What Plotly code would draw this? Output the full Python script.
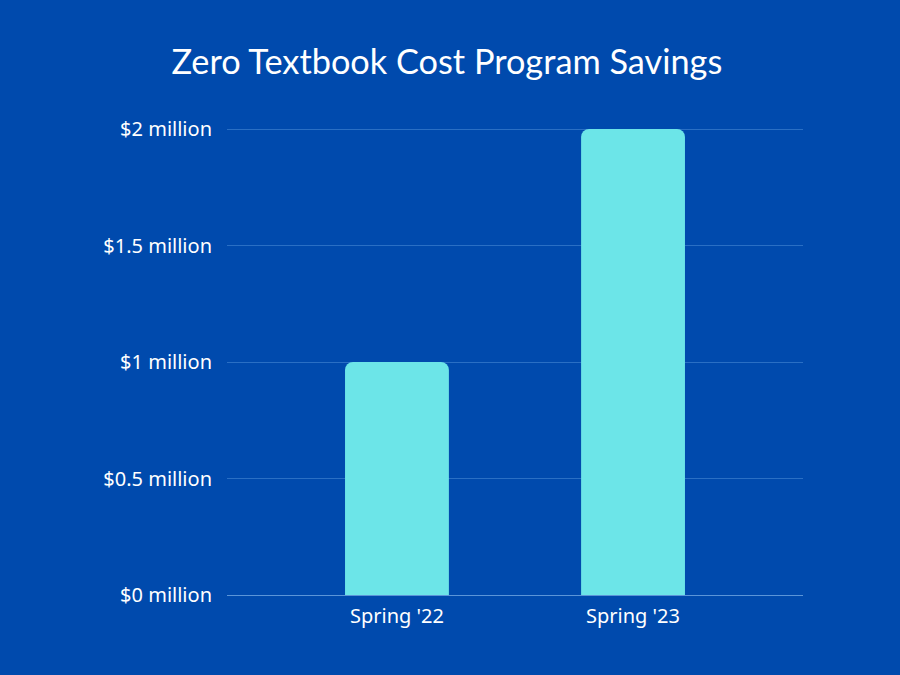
import plotly.graph_objects as go

# Values.
terms = ["Spring '22", "Spring '23"]
savings = [1, 2]
tick_values = [0, 0.5, 1, 1.5, 2]
tick_labels = ["$0 million", "$0.5 million", "$1 million", "$1.5 million", "$2 million"]

fig = go.Figure(
    go.Bar(
        x=terms,
        y=savings,
        width=0.44,
        marker=dict(color="#6ce5e8", line=dict(width=0), cornerradius=8),
    )
)

fig.update_layout(
    width=900,
    height=675,
    autosize=False,
    paper_bgcolor="#004aad",
    plot_bgcolor="#004aad",
    font=dict(family="Noto Sans", size=20, color="#ffffff"),
    title=dict(
        text="Zero Textbook Cost Program Savings",
        font=dict(family="Lato", size=34.3, color="#ffffff"),
        x=0.4965,
        xanchor="center",
        y=0.908,
        yanchor="middle",
    ),
    margin=dict(l=227, r=97, t=124, b=80),
    showlegend=False,
)

fig.update_xaxes(
    range=[-0.72, 1.72],
    showgrid=False,
    zeroline=False,
    showline=False,
    ticks="",
    ticklabelstandoff=7,
)
# Top of the range sits just above 2 so the top gridline still gets drawn.
fig.update_yaxes(
    range=[0, 2.0215],
    tickvals=tick_values,
    ticktext=tick_labels,
    showgrid=True,
    gridcolor="#2a6fc4",
    gridwidth=1,
    zeroline=True,
    zerolinecolor="#5b95d8",
    zerolinewidth=1,
    showline=False,
    ticks="",
    ticklabelstandoff=14,
    automargin=False,
)

# Drop the browser's default page margin and the hover toolbar.
fig.write_html(
    "out.html",
    config=dict(displayModeBar=False),
    post_script="document.body.style.margin = '0';",
)
